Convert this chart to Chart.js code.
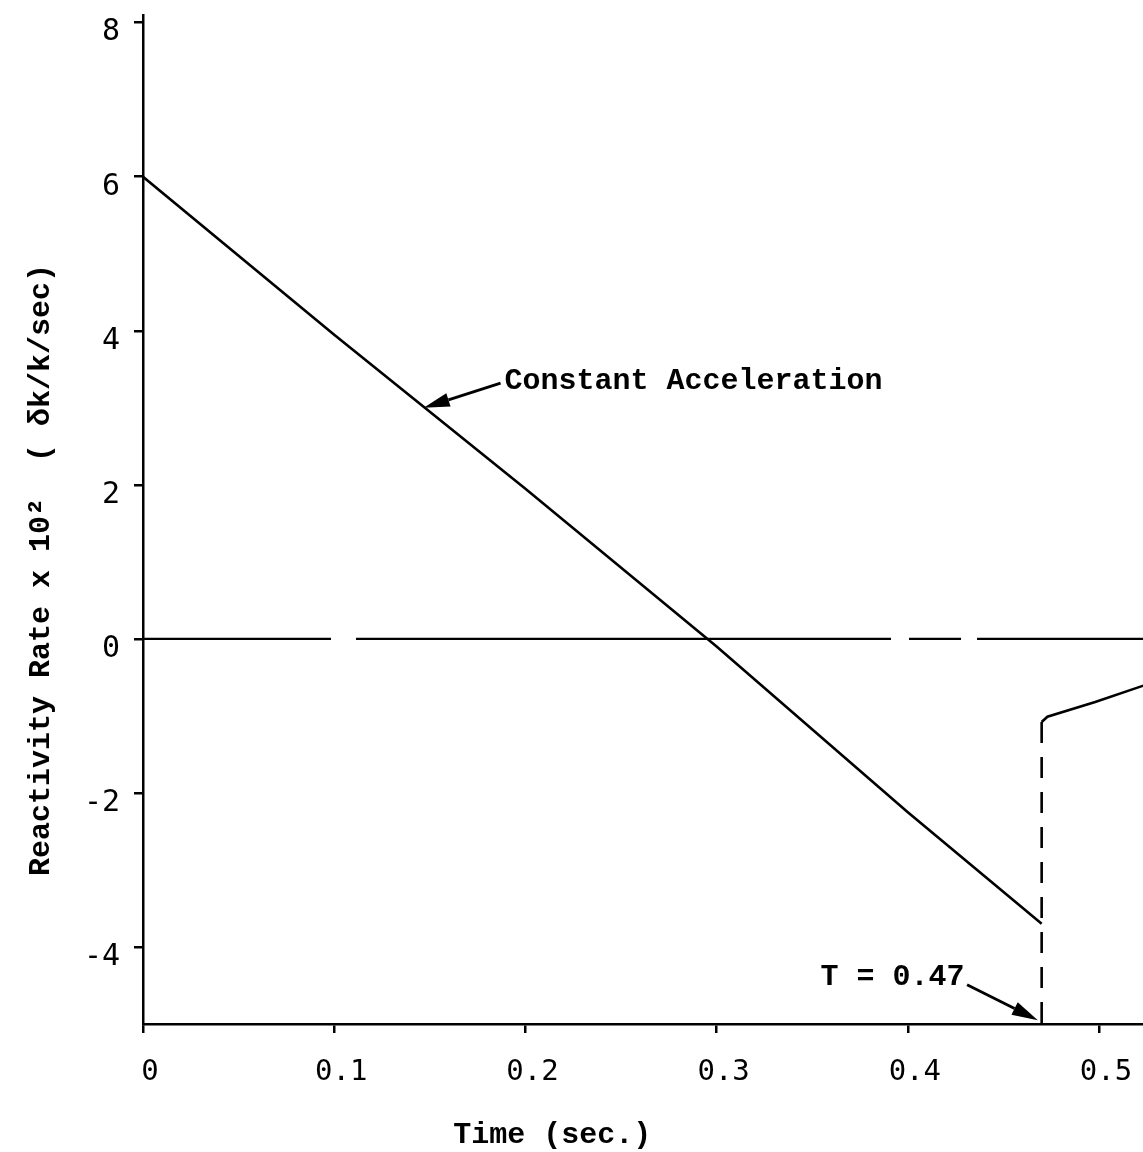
<!DOCTYPE html>
<html>
<head>
<meta charset="utf-8">
<script src="https://cdn.jsdelivr.net/npm/chart.js@4"></script>
<style>
html,body{margin:0;padding:0;background:#fff;}
#wrap{width:1143px;height:1152px;}
</style>
</head>
<body>
<div id="wrap"><canvas id="c" width="1143" height="1152"></canvas></div>
<script>
// ---- data ----
const xTicks = [0, 0.1, 0.2, 0.3, 0.4, 0.5];
const xTickLabels = ['0', '0.1', '0.2', '0.3', '0.4', '0.5'];
const yTicks = [-4, -2, 0, 2, 4, 6, 8];
const yTickLabels = ['-4', '-2', '0', '2', '4', '6', '8'];

const accelTime = [0, 0.1, 0.2, 0.3, 0.4, 0.47];
const accelRate = [6, 3.95, 1.95, -0.1, -2.25, -3.7];

const recoveryTime = [0.47, 0.473, 0.498, 0.524];
const recoveryRate = [-1.08, -1.01, -0.82, -0.6];

const zeroTime = [0, 0.524];
const zeroRate = [0, 0];

const markerTime = [0.47, 0.47];
const markerRate = [-1.08, -5.13];

const xTitle = 'Time (sec.)';
const yTitle = 'Reactivity Rate x 10\u00B2  ( \u03B4k/k/sec)';
const labelAccel = 'Constant Acceleration';
const labelT = 'T = 0.47';

const toPts = (xs, ys) => xs.map((x, i) => ({x: x, y: ys[i]}));

const annotations = [
  {text: labelAccel, x: 0.189, y: 3.34, align: 'left'},
  {text: labelT, x: 0.4297, y: -4.39, align: 'right'}
];
const arrows = [
  {from: [0.187, 3.32], to: [0.1468, 3.0]},
  {from: [0.431, -4.49], to: [0.468, -4.95]}
];

const monoFont = '"Liberation Mono", "DejaVu Sans Mono", monospace';
const tickFont = '"DejaVu Sans Mono", "Liberation Mono", monospace';

const annotPlugin = {
  id: 'annot',
  afterDraw(chart) {
    const ctx = chart.ctx, xs = chart.scales.x, ys = chart.scales.y;
    ctx.save();
    ctx.fillStyle = '#000';
    ctx.strokeStyle = '#000';
    ctx.font = 'bold 30px ' + monoFont;
    ctx.textBaseline = 'middle';
    annotations.forEach(a => {
      ctx.textAlign = a.align;
      ctx.fillText(a.text, xs.getPixelForValue(a.x), ys.getPixelForValue(a.y));
    });
    arrows.forEach(a => {
      const x1 = xs.getPixelForValue(a.from[0]), y1 = ys.getPixelForValue(a.from[1]);
      const x2 = xs.getPixelForValue(a.to[0]), y2 = ys.getPixelForValue(a.to[1]);
      const ang = Math.atan2(y2 - y1, x2 - x1);
      const L = 26, W = 7;
      const bx = x2 - L * Math.cos(ang), by = y2 - L * Math.sin(ang);
      ctx.lineWidth = 2.8;
      ctx.beginPath(); ctx.moveTo(x1, y1); ctx.lineTo(bx, by); ctx.stroke();
      ctx.beginPath();
      ctx.moveTo(x2, y2);
      ctx.lineTo(bx + W * Math.sin(ang), by - W * Math.cos(ang));
      ctx.lineTo(bx - W * Math.sin(ang), by + W * Math.cos(ang));
      ctx.closePath(); ctx.fill();
    });
    // axis titles
    ctx.font = 'bold 30px ' + monoFont;
    ctx.textAlign = 'center';
    ctx.fillText(xTitle, xs.getPixelForValue(0.214), 1135);
    ctx.translate(41, 570);
    ctx.rotate(-Math.PI / 2);
    ctx.fillText(yTitle, 0, 0);
    ctx.restore();
  }
};

const lineStyle = {borderColor: '#000', backgroundColor: '#000', borderWidth: 2.6, pointRadius: 0, fill: false};

new Chart(document.getElementById('c'), {
  type: 'line',
  data: {
    datasets: [
      Object.assign({label: 'zero', data: toPts(zeroTime, zeroRate), borderDash: [188, 25, 535, 18, 52, 16, 250], borderWidth: 2.4}, {borderColor: '#000', pointRadius: 0}),
      Object.assign({label: 'Constant Acceleration', data: toPts(accelTime, accelRate)}, lineStyle),
      Object.assign({label: 'recovery', data: toPts(recoveryTime, recoveryRate), tension: 0}, lineStyle),
      Object.assign({label: 'T', data: toPts(markerTime, markerRate), borderDash: [21, 14], clip: false}, lineStyle)
    ]
  },
  options: {
    responsive: false,
    devicePixelRatio: 1,
    animation: false,
    events: [],
    layout: {padding: {left: 0, right: 0, top: 15, bottom: 0}},
    plugins: {legend: {display: false}, tooltip: {enabled: false}},
    scales: {
      x: {
        type: 'linear',
        min: 0, max: 0.523,
        afterFit(s) { s.height = 128; s.paddingLeft = 0; s.paddingRight = 0; },
        afterBuildTicks(s) { s.ticks = xTicks.map(v => ({value: v})); },
        border: {display: true, color: '#000', width: 2.5},
        grid: {display: true, drawOnChartArea: false, drawTicks: true, tickLength: 9, color: '#000', lineWidth: 2.5},
        ticks: {
          callback: (v, i) => xTickLabels[i],
          font: {family: tickFont, size: 29},
          color: '#000',
          padding: 22,
          labelOffset: 7,
          maxRotation: 0,
          autoSkip: false
        }
      },
      y: {
        type: 'linear',
        min: -5, max: 8.1,
        afterFit(s) { s.width = 143; s.paddingTop = 0; s.paddingBottom = 0; },
        afterBuildTicks(s) { s.ticks = yTicks.map(v => ({value: v})); },
        border: {display: true, color: '#000', width: 2.5},
        grid: {display: true, drawOnChartArea: false, drawTicks: true, tickLength: 9, color: '#000', lineWidth: 2.5},
        ticks: {
          callback: (v, i) => yTickLabels[i],
          font: {family: tickFont, size: 30},
          color: '#000',
          padding: 14,
          labelOffset: 10,
          autoSkip: false
        }
      }
    }
  },
  plugins: [annotPlugin]
});
</script>
</body>
</html>
